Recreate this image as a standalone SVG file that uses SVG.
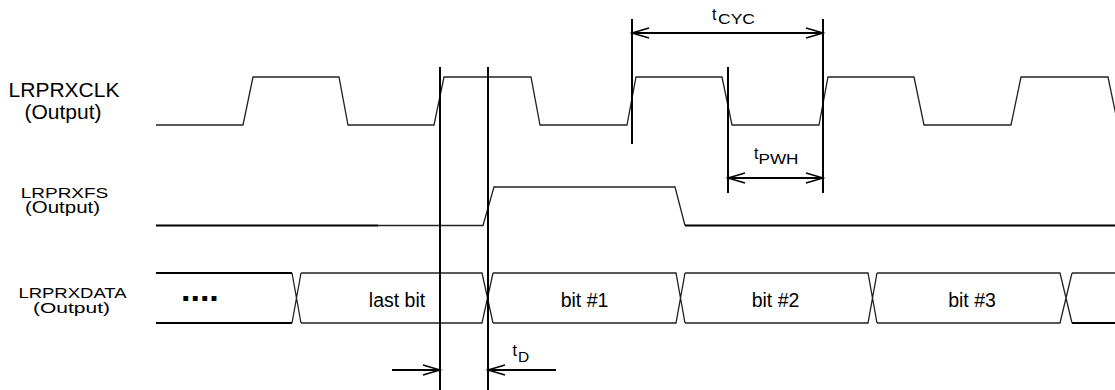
<svg xmlns="http://www.w3.org/2000/svg" width="1115" height="390" viewBox="0 0 1115 390">
<style>
.lbl{font-family:"Liberation Sans",Arial,sans-serif;fill:#000;text-anchor:middle}
.sig{fill:none;stroke:#222;stroke-width:1.3;stroke-linejoin:miter}
.thick{fill:none;stroke:#000;stroke-width:2}
.ref{stroke:#000;stroke-width:2;fill:none}
.dim{stroke:#000;stroke-width:2;fill:none;marker-end:url(#ah)}
.t{font-family:"Liberation Sans",Arial,sans-serif;fill:#000}
</style>
<defs>
<marker id="ah" markerUnits="userSpaceOnUse" markerWidth="22" markerHeight="14" refX="18" refY="7" orient="auto-start-reverse" overflow="visible">
<path d="M1,2 L18,7 L1,12" fill="none" stroke="#000" stroke-width="1.5"/>
</marker>
</defs>
<rect width="1115" height="390" fill="#fff"/>

<g id="label-clk">
<text class="lbl" x="64" y="97" font-size="21">LRPRXCLK</text>
<text class="lbl" x="63" y="119" font-size="21">(Output)</text>
</g>
<g id="label-fs">
<text class="lbl" font-size="19" transform="translate(64.5,198) scale(1,0.8)">LRPRXFS</text>
<text class="lbl" font-size="20.5" transform="translate(62.5,212.5) scale(1,0.76)">(Output)</text>
</g>
<g id="label-data">
<text class="lbl" font-size="18.5" transform="translate(72.5,298) scale(1,0.82)">LRPRXDATA</text>
<text class="lbl" font-size="21" transform="translate(71.5,312.5) scale(1,0.74)">(Output)</text>
</g>

<g id="clk">
<path class="sig" d="M156,125 L243,125 L253,77 L339,77 L348,125 L434,125 L444,77 L531,77 L540,125 L627,125 L636,77 L722,77 L732,125 L819,125 L828,77 L914,77 L924,125 L1011,125 L1021,77 L1108,77 L1118,125"/>
</g>

<g id="fs">
<path class="thick" d="M156,225.5 L378,225.5"/>
<path class="sig" d="M378,225.5 L483,225.5 L494,187 L675,187 L685,225.5"/>
<path class="thick" d="M685,225.5 L1115,225.5"/>
</g>

<g id="data">
<path class="thick" d="M156,273 L292,273 M156,323 L292,323"/>
<path class="sig" d="M292,273 L301,323 M292,323 L301,273"/>
<path class="sig" d="M301,273 L482,273 L493,323 M301,323 L482,323 L493,273"/>
<path class="sig" d="M493,273 L676,273 L685,323 M493,323 L676,323 L685,273"/>
<path class="sig" d="M685,273 L868,273 L877,323 M685,323 L868,323 L877,273"/>
<path class="sig" d="M877,273 L1060,273 L1072,323 M877,323 L1060,323 L1072,273"/>
<path class="sig" d="M1072,273 L1115,273"/>
<path class="thick" d="M1072,323 L1115,323"/>
<text class="t" x="181" y="301" font-size="34" font-weight="bold">....</text>
<text class="lbl" x="397" y="307" font-size="19.5">last bit</text>
<text class="lbl" x="584.5" y="307" font-size="19.5">bit #1</text>
<text class="lbl" x="775.5" y="307" font-size="19.5">bit #2</text>
<text class="lbl" x="972" y="307" font-size="19.5">bit #3</text>
</g>

<g id="connectors">
<line class="ref" x1="440" y1="67" x2="440" y2="390"/>
<line class="ref" x1="488" y1="67" x2="488" y2="390"/>
<line class="ref" x1="632" y1="19" x2="632" y2="144"/>
<line class="ref" x1="728" y1="67" x2="728" y2="193"/>
<line class="ref" x1="823" y1="19" x2="823" y2="193"/>
<line x1="632" y1="33" x2="823" y2="33" stroke="#000" stroke-width="2" marker-start="url(#ah)" marker-end="url(#ah)"/>
<line x1="728" y1="178" x2="823" y2="178" stroke="#000" stroke-width="2" marker-start="url(#ah)" marker-end="url(#ah)"/>
<line class="dim" x1="392" y1="370" x2="440" y2="370"/>
<line class="dim" x1="556" y1="370" x2="488" y2="370"/>
</g>

<g id="timing-labels">
<text class="t" x="712" y="20" font-size="16">t</text>
<text class="t" x="718" y="24" font-size="15" textLength="37" lengthAdjust="spacingAndGlyphs">CYC</text>
<text class="t" x="754" y="159" font-size="16">t</text>
<text class="t" x="758.5" y="164" font-size="14" textLength="40" lengthAdjust="spacingAndGlyphs">PWH</text>
<text class="t" x="512.5" y="356" font-size="16">t</text>
<text class="t" x="518" y="362" font-size="15.5">D</text>
</g>
</svg>
